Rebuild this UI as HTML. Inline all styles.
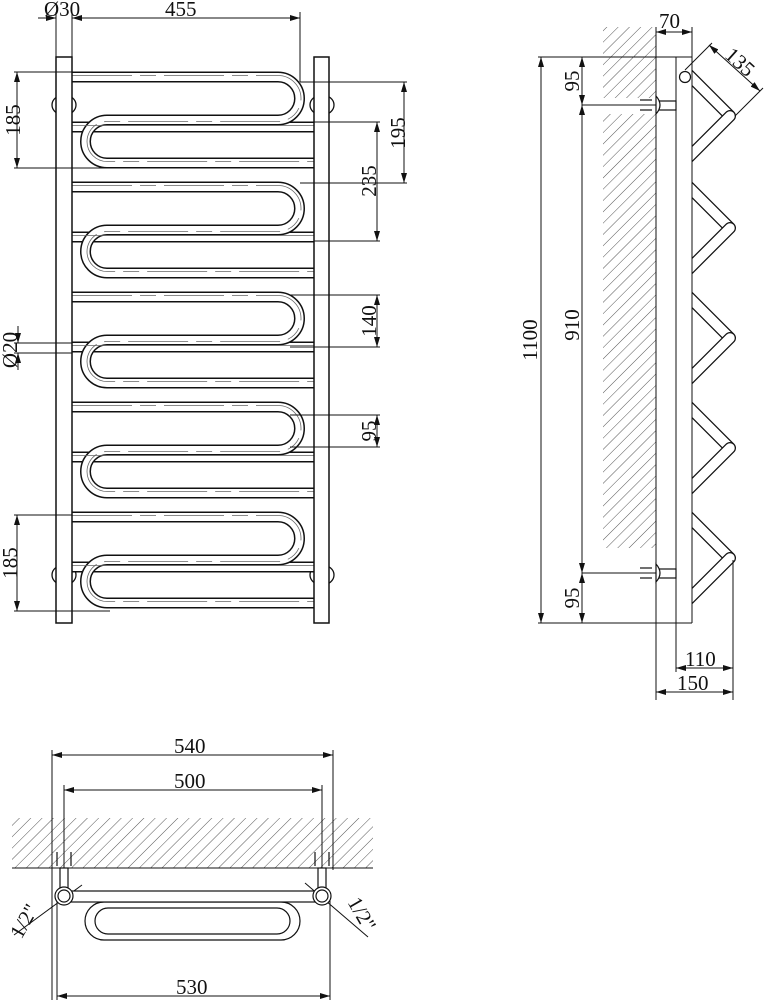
<!DOCTYPE html>
<html><head><meta charset="utf-8"><style>
html,body{margin:0;padding:0;background:#fff;}
svg{display:block;}
text{font-family:"Liberation Serif",serif;font-size:21px;fill:#111;}
</style></head><body>
<svg width="764" height="1000" viewBox="0 0 764 1000" xmlns="http://www.w3.org/2000/svg">
<defs>
<pattern id="h" width="8" height="8" patternUnits="userSpaceOnUse" patternTransform="rotate(45)">
<line x1="0" y1="0" x2="0" y2="8" stroke="#555" stroke-width="1"/>
</pattern>
<marker id="a" viewBox="0 0 10 6" refX="10" refY="3" markerWidth="10" markerHeight="6" orient="auto-start-reverse"><path d="M0,0 L10,3 L0,6 z" fill="#111"/></marker>
<g id="sec">
 <path d="M72 50 H314" fill="none" stroke="#111" stroke-width="11" stroke-linecap="round"/>
 <path d="M72 50 H314" fill="none" stroke="#fff" stroke-width="8" stroke-linecap="round"/>
 <path d="M72 0 H278 A21.5 21.5 0 0 1 278 43 H107 A21.5 21.5 0 0 0 107 86 H314" fill="none" stroke="#111" stroke-width="11" stroke-linecap="round"/>
 <path d="M72 0 H278 A21.5 21.5 0 0 1 278 43 H107 A21.5 21.5 0 0 0 107 86 H314" fill="none" stroke="#fff" stroke-width="8" stroke-linecap="round"/>
 <path d="M72 -1.5 H278 A23 23 0 0 1 278 44.5 H107 A20 20 0 0 0 107 84.5 H314" fill="none" stroke="#666" stroke-width="0.8" stroke-dasharray="60 8 16 8"/>
 <path d="M72 48.5 H314" fill="none" stroke="#666" stroke-width="0.8"/>
</g>
<g id="arm">
 <path d="M685 -47 L730 -2" fill="none" stroke="#111" stroke-width="12" stroke-linecap="butt"/>
 <path d="M685 -47 L730 -2" fill="none" stroke="#fff" stroke-width="9.5" stroke-linecap="butt"/>
 <path d="M730 -2 L688 40" fill="none" stroke="#111" stroke-width="12" stroke-linecap="round"/>
 <path d="M730 -2 L688 40" fill="none" stroke="#fff" stroke-width="9.5" stroke-linecap="round"/>
</g>
</defs>

<!-- FRONT VIEW -->
<g stroke="#111" stroke-width="1.3" fill="#fff">
<ellipse cx="64" cy="105" rx="12" ry="10"/><ellipse cx="322" cy="105" rx="12" ry="10"/>
<ellipse cx="64" cy="575" rx="12" ry="10"/><ellipse cx="322" cy="575" rx="12" ry="10"/>
</g>
<use href="#sec" y="77"/><use href="#sec" y="187"/><use href="#sec" y="297"/><use href="#sec" y="407"/><use href="#sec" y="517"/>
<g stroke="#111" stroke-width="1.5" fill="#fff">
<rect x="56" y="57" width="16" height="566"/>
<rect x="314" y="57" width="15" height="566"/>
</g>

<g stroke="#111" stroke-width="1" fill="none">
<line x1="56" y1="12" x2="56" y2="57"/><line x1="72" y1="12" x2="72" y2="57"/><line x1="300" y1="12" x2="300" y2="82"/>
<line x1="38" y1="18" x2="56" y2="18" marker-end="url(#a)"/>
<line x1="90" y1="18" x2="72" y2="18" marker-end="url(#a)"/>
<line x1="72" y1="18" x2="300" y2="18" marker-end="url(#a)"/>
<line x1="14" y1="72" x2="72" y2="72"/><line x1="14" y1="168" x2="110" y2="168"/>
<line x1="17" y1="72" x2="17" y2="168" marker-start="url(#a)" marker-end="url(#a)"/>
<line x1="300" y1="82" x2="407" y2="82"/><line x1="300" y1="183" x2="407" y2="183"/>
<line x1="404" y1="82" x2="404" y2="183" marker-start="url(#a)" marker-end="url(#a)"/>
<line x1="314" y1="122" x2="380" y2="122"/><line x1="314" y1="241" x2="380" y2="241"/>
<line x1="377" y1="122" x2="377" y2="241" marker-start="url(#a)" marker-end="url(#a)"/>
<line x1="290" y1="295" x2="380" y2="295"/><line x1="290" y1="347" x2="380" y2="347"/>
<line x1="377" y1="295" x2="377" y2="347" marker-start="url(#a)" marker-end="url(#a)"/>
<line x1="14" y1="343" x2="72" y2="343"/><line x1="14" y1="353" x2="72" y2="353"/>
<line x1="18" y1="326" x2="18" y2="343" marker-end="url(#a)"/><line x1="18" y1="370" x2="18" y2="353" marker-end="url(#a)"/>
<line x1="290" y1="415" x2="380" y2="415"/><line x1="290" y1="447" x2="380" y2="447"/>
<line x1="377" y1="415" x2="377" y2="447" marker-start="url(#a)" marker-end="url(#a)"/>
<line x1="14" y1="515" x2="72" y2="515"/><line x1="14" y1="611" x2="110" y2="611"/>
<line x1="17" y1="515" x2="17" y2="611" marker-start="url(#a)" marker-end="url(#a)"/>
</g>
<text x="44" y="16">Ø30</text>
<text x="165" y="16">455</text>
<text transform="translate(13,120) rotate(-90)" text-anchor="middle" dy="7">185</text>
<text transform="translate(398,133) rotate(-90)" text-anchor="middle" dy="7">195</text>
<text transform="translate(369,181) rotate(-90)" text-anchor="middle" dy="7">235</text>
<text transform="translate(369,321) rotate(-90)" text-anchor="middle" dy="7">140</text>
<text transform="translate(10,350) rotate(-90)" text-anchor="middle" dy="7">Ø20</text>
<text transform="translate(369,431) rotate(-90)" text-anchor="middle" dy="7">95</text>
<text transform="translate(10,563) rotate(-90)" text-anchor="middle" dy="7">185</text>

<!-- SIDE VIEW -->
<rect x="603" y="27" width="53" height="521" fill="url(#h)"/>
<rect x="600" y="98" width="58" height="16" fill="#fff"/>
<clipPath id="cr"><rect x="692" y="0" width="72" height="640"/></clipPath>
<g clip-path="url(#cr)">
<use href="#arm" y="118"/><use href="#arm" y="230"/><use href="#arm" y="340"/><use href="#arm" y="450"/><use href="#arm" y="560"/>
</g>
<g stroke="#111" stroke-width="1" fill="none">
<line x1="656" y1="27" x2="656" y2="700"/>
<line x1="676" y1="57" x2="676" y2="672"/>
<line x1="692" y1="27" x2="692" y2="623"/>
<line x1="538" y1="57" x2="692" y2="57"/>
<line x1="538" y1="623" x2="692" y2="623"/>
<line x1="541" y1="57" x2="541" y2="623" marker-start="url(#a)" marker-end="url(#a)"/>
<line x1="582" y1="57" x2="582" y2="105" marker-start="url(#a)" marker-end="url(#a)"/>
<line x1="582" y1="105" x2="582" y2="573" marker-start="url(#a)" marker-end="url(#a)"/>
<line x1="582" y1="573" x2="582" y2="623" marker-start="url(#a)" marker-end="url(#a)"/>
<line x1="582" y1="105" x2="656" y2="105"/>
<line x1="582" y1="573" x2="656" y2="573"/>
<line x1="656" y1="32" x2="692" y2="32" marker-start="url(#a)" marker-end="url(#a)"/>
<line x1="733" y1="560" x2="733" y2="700"/>
<line x1="676" y1="668" x2="733" y2="668" marker-start="url(#a)" marker-end="url(#a)"/>
<line x1="656" y1="692" x2="733" y2="692" marker-start="url(#a)" marker-end="url(#a)"/>
<line x1="685" y1="70" x2="712" y2="43"/>
<line x1="735" y1="116" x2="763" y2="88"/>
<line x1="709" y1="45" x2="760" y2="91" marker-start="url(#a)" marker-end="url(#a)"/>
</g>
<g stroke="#111" stroke-width="1.2" fill="#fff">
<rect x="658" y="101" width="18" height="9"/>
<path d="M656 96 Q664 105 656 114 Z"/>
<line x1="640" y1="100" x2="652" y2="100"/><line x1="640" y1="110" x2="652" y2="110"/>
<rect x="658" y="569" width="18" height="9"/>
<path d="M656 564 Q664 573 656 582 Z"/>
<line x1="640" y1="568" x2="652" y2="568"/><line x1="640" y1="578" x2="652" y2="578"/>
</g>
<circle cx="685" cy="77" r="5.5" fill="#fff" stroke="#111" stroke-width="1.2"/>
<text x="659" y="28">70</text>
<text transform="translate(740,62) rotate(42)" text-anchor="middle" dy="7">135</text>
<text transform="translate(530,340) rotate(-90)" text-anchor="middle" dy="7">1100</text>
<text transform="translate(572,81) rotate(-90)" text-anchor="middle" dy="7">95</text>
<text transform="translate(572,325) rotate(-90)" text-anchor="middle" dy="7">910</text>
<text transform="translate(572,598) rotate(-90)" text-anchor="middle" dy="7">95</text>
<text x="685" y="666">110</text>
<text x="677" y="690">150</text>

<!-- BOTTOM VIEW -->
<rect x="12" y="818" width="361" height="50" fill="url(#h)"/>
<g stroke="#111" stroke-width="1" fill="none">
<line x1="12" y1="868" x2="373" y2="868"/>
<line x1="52" y1="750" x2="52" y2="1000"/><line x1="333" y1="750" x2="333" y2="870"/>
<line x1="64" y1="785" x2="64" y2="870"/><line x1="322" y1="785" x2="322" y2="870"/>
<line x1="57" y1="900" x2="57" y2="1000"/><line x1="330" y1="900" x2="330" y2="1000"/>
<line x1="52" y1="755" x2="333" y2="755" marker-start="url(#a)" marker-end="url(#a)"/>
<line x1="64" y1="790" x2="322" y2="790" marker-start="url(#a)" marker-end="url(#a)"/>
<line x1="57" y1="996" x2="330" y2="996" marker-start="url(#a)" marker-end="url(#a)"/>
<line x1="14" y1="935" x2="82" y2="885"/>
<line x1="305" y1="883" x2="368" y2="937"/>
</g>
<g stroke="#111" stroke-width="1.2" fill="#fff">
<rect x="60" y="868" width="8" height="20"/><rect x="318" y="868" width="8" height="20"/>
<line x1="57" y1="852" x2="57" y2="866"/><line x1="71" y1="852" x2="71" y2="866"/>
<line x1="315" y1="852" x2="315" y2="866"/><line x1="329" y1="852" x2="329" y2="866"/>
<rect x="85" y="902" width="215" height="38" rx="19"/>
<rect x="95" y="908" width="195" height="26" rx="13"/>
<rect x="64" y="891" width="258" height="11"/>
<circle cx="64" cy="896" r="9"/><circle cx="64" cy="896" r="6"/>
<circle cx="322" cy="896" r="9"/><circle cx="322" cy="896" r="6"/>
</g>
<text x="174" y="753">540</text>
<text x="174" y="788">500</text>
<text x="176" y="994">530</text>
<text transform="translate(24,921) rotate(-60)" text-anchor="middle" dy="7">1/2"</text>
<text transform="translate(362,914) rotate(60)" text-anchor="middle" dy="7">1/2"</text>
</svg>
</body></html>
